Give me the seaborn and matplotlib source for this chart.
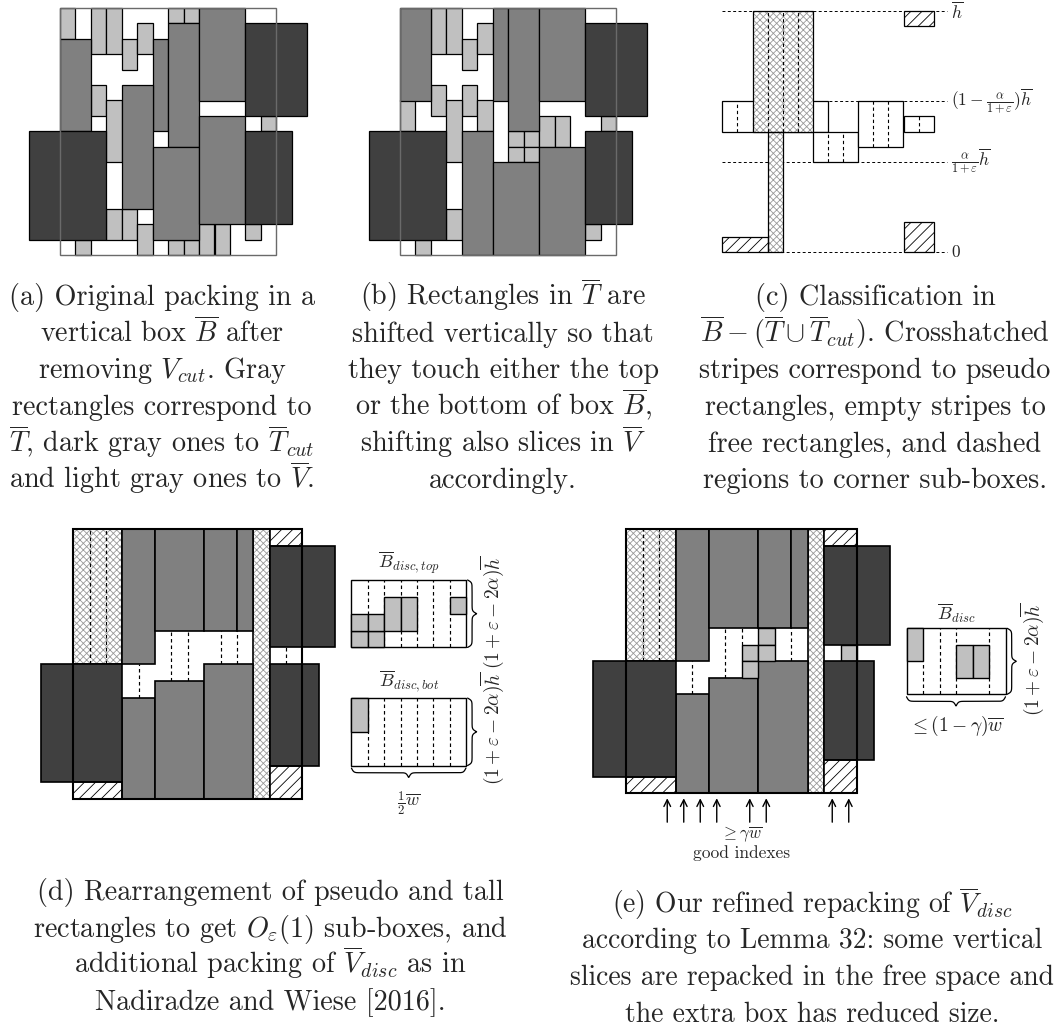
import numpy as np
import matplotlib
matplotlib.use('Agg')
import matplotlib.pyplot as plt
import seaborn as sns

sns.set_theme(style='white')
plt.rcParams['font.family'] = ['cmr10', 'DejaVu Serif']
plt.rcParams['mathtext.fontset'] = 'cm'
plt.rcParams['axes.unicode_minus'] = False
plt.rcParams['hatch.linewidth'] = 0.6

W, H = 1064, 1034
LIGHT, MED, DARK = sns.color_palette(['#c0c0c0', '#808080', '#404040'])
XHATCH = '#999999'

# rectangles are (x, y, width, height) in grid units, y measured from the box bottom
# (a) original packing
A_LIGHT = [(0, 14, 1, 2), (2, 13, 1, 3), (3, 13, 1, 3), (4, 12, 1, 2), (5, 13, 1, 2),
           (7, 15, 1, 1), (8, 15, 1, 1), (2, 9, 1, 2), (3, 6, 1, 4), (3, 1, 1, 2),
           (4, 1, 1, 2), (5, 0, 1, 2), (1, 0, 1, 1), (7, 0, 1, 1), (8, 0, 1, 1),
           (9, 0, 1, 2), (10, 0, 1, 2), (12, 1, 1, 1), (13, 8, 1, 1)]
A_MED = [(0, 8, 2, 6), (6, 8, 1, 6), (7, 7, 2, 8), (9, 10, 3, 6), (4, 3, 2, 8),
         (6, 1, 3, 6), (9, 2, 3, 7)]
CUT_DARK = [(-2, 1, 5, 7), (12, 9, 4, 6), (12, 2, 3, 6)]

# (b) shifted packing
B_LIGHT = [(2, 13, 1, 3), (3, 13, 1, 3), (4, 12, 1, 2), (5, 13, 1, 2), (2, 9, 1, 2),
           (4, 9, 1, 2), (0, 8, 1, 2), (3, 6, 1, 4), (5, 8, 1, 2), (7, 7, 1, 1),
           (8, 7, 1, 1), (7, 6, 1, 1), (8, 6, 1, 1), (9, 7, 1, 2), (10, 7, 1, 2),
           (3, 1, 1, 2), (1, 0, 1, 1), (13, 8, 1, 1), (12, 1, 1, 1)]
B_MED = [(0, 10, 2, 6), (6, 10, 1, 6), (7, 8, 2, 8), (9, 10, 3, 6), (4, 0, 2, 8),
         (6, 0, 3, 6), (9, 0, 3, 7)]

# (c) classification
C_FREE = [(0, 8, 7, 2), (6, 6, 3, 2), (9, 7, 3, 3), (12, 8, 2, 1)]
C_CROSS = [(2, 8, 4, 8), (3, 0, 1, 8)]
C_HATCH = [(12, 15, 2, 1), (0, 0, 3, 1), (12, 0, 2, 2)]
C_DASH = [(1, 8, 10), (2, 8, 10), (3, 8, 16), (4, 8, 16), (5, 8, 16), (7, 6, 8),
          (8, 6, 8), (10, 7, 10), (11, 7, 10), (13, 8, 9)]
C_LEVELS = [16, 10, 6, 0]
C_LEVEL_LABELS = [r'$\overline{h}$', r'$(1-\frac{\alpha}{1+\varepsilon})\overline{h}$',
                  r'$\frac{\alpha}{1+\varepsilon}\overline{h}$', r'$0$']

# (d) rearrangement
D_CROSS = [(0, 8, 3, 8), (11, 0, 1, 16)]
D_HATCH = [(12, 15, 2, 1), (12, 0, 2, 2), (0, 0, 3, 1)]
D_MED = [(3, 8, 2, 8), (3, 0, 2, 6), (5, 10, 3, 6), (8, 10, 2, 6), (10, 10, 1, 6),
         (5, 0, 3, 7), (8, 0, 3, 8)]
D_SIDE = [(17, 9, 7, 4), (17, 2, 7, 4)]
D_LIGHT = [(17, 9, 1, 1), (17, 10, 1, 1), (18, 9, 1, 1), (18, 10, 1, 1), (19, 10, 1, 2),
           (20, 10, 1, 2), (23, 11, 1, 1), (17, 4, 1, 2)]
D_DASH = [(1, 8, 16), (2, 8, 16), (4, 6, 8), (6, 7, 10), (7, 7, 10), (9, 8, 10),
          (10, 8, 10), (13, 8, 9)] + \
         [(x, 9, 13) for x in range(18, 24)] + [(x, 2, 6) for x in range(18, 24)]

# (e) refined repacking
E_LIGHT = [(8, 9, 1, 1), (7, 8, 1, 1), (8, 8, 1, 1), (7, 7, 1, 1), (13, 8, 1, 1),
           (17, 8, 1, 2), (20, 7, 1, 2), (21, 7, 1, 2)]
E_SIDE = [(17, 6, 6, 4)]
E_DASH = [(1, 8, 16), (2, 8, 16), (4, 6, 8), (6, 7, 10), (7, 9, 10), (10, 8, 10),
          (18, 6, 8), (19, 6, 10), (20, 6, 10), (22, 6, 10)]
E_GOOD = [2.5, 3.5, 4.5, 5.5, 7.5, 8.5, 12.5, 13.5]

fig = plt.figure(figsize=(W / 100, H / 100), dpi=100)


def panel(x0, y0, ux, uy, xlim, ylim):
    left = (x0 + xlim[0] * ux) / W
    bottom = 1 - (y0 - ylim[0] * uy) / H
    ax = fig.add_axes([left, bottom, (xlim[1] - xlim[0]) * ux / W,
                       (ylim[1] - ylim[0]) * uy / H])
    ax.set_xlim(xlim)
    ax.set_ylim(ylim)
    ax.axis('off')
    return ax


def rects(ax, data, color, lw=0.8, ec='black', z=2, hatch=None, hcolor='black'):
    x, y, w, h = np.array(data, dtype=float).T
    if hatch:
        ax.bar(x, h, w, y, align='edge', color='white', edgecolor=hcolor,
               hatch=hatch, linewidth=0, zorder=z)
        ax.bar(x, h, w, y, align='edge', fill=False, edgecolor=ec, linewidth=lw,
               zorder=z + 0.1)
    else:
        ax.bar(x, h, w, y, align='edge', color=color, edgecolor=ec, linewidth=lw,
               zorder=z)


def dashes(ax, data, lw=0.8, z=3):
    x, y0, y1 = np.array(data, dtype=float).T
    ax.vlines(x, y0, y1, colors='black', linestyles=(0, (3, 2.5)), linewidth=lw,
              zorder=z)


def brace(ax, a, b, pos, depth, vertical=True, lw=0.9):
    t = np.linspace(a, b, 400)
    half = np.linspace(0, (b - a) / 2, 200)
    s = 1 / (1 + np.exp(-14 * (half - half[0]))) + 1 / (1 + np.exp(-14 * (half - half[-1])))
    s = np.concatenate([s, s[::-1]]) - 0.5
    if vertical:
        ax.plot(pos + depth * s, t, color='black', lw=lw, zorder=5)
    else:
        ax.plot(t, pos - depth * s, color='black', lw=lw, zorder=5)


def box(ax, w, h, color, lw):
    ax.bar([0], [h], [w], [0], align='edge', fill=False, edgecolor=color,
           linewidth=lw, zorder=6)


# panels (a) and (b)
for x0, light, med in [(60, A_LIGHT, A_MED), (400, B_LIGHT, B_MED)]:
    ax = panel(x0, 255, 15.45, 15.45, (-2.5, 16.5), (-0.5, 16.5))
    rects(ax, light, LIGHT, lw=0.9)
    rects(ax, med, MED, lw=0.9)
    rects(ax, CUT_DARK, DARK, lw=0.9)
    box(ax, 14, 16, '#6a6a6a', 1.0)

# panel (c)
ax = panel(722.3, 252.3, 15.1, 15.1, (-0.5, 22), (-1, 17))
rects(ax, C_FREE, 'white', lw=0.9)
rects(ax, C_CROSS, 'white', lw=0.9, hatch='xxxxx', hcolor=XHATCH)
rects(ax, C_HATCH, 'white', lw=0.9, hatch='///', hcolor='black')
dashes(ax, C_DASH, lw=0.8)
ax.hlines(C_LEVELS, 0, 14.9, colors='black', linestyles=(0, (3, 2.5)), linewidth=0.7,
          zorder=1)
for lv, lab in zip(C_LEVELS, C_LEVEL_LABELS):
    ax.text(15.15, lv, lab, ha='left', va='center', fontsize=12.5)

# panels (d) and (e)
for name in ['d', 'e']:
    if name == 'd':
        ax = panel(73.3, 799.3, 16.36, 16.87, (-2.5, 26.5), (-1, 17))
        light, side, dsh = D_LIGHT, D_SIDE, D_DASH
    else:
        ax = panel(626, 793.3, 16.5, 16.5, (-2.5, 26.5), (-4.2, 17))
        light, side, dsh = E_LIGHT, E_SIDE, E_DASH
    rects(ax, side, 'white', lw=1.0, z=1)
    rects(ax, D_CROSS, 'white', lw=1.2, hatch='xxxxx', hcolor=XHATCH, z=1.2)
    dashes(ax, dsh, lw=0.85, z=1.5)
    rects(ax, D_HATCH, 'white', lw=1.2, hatch='///', hcolor='black')
    rects(ax, D_MED, MED, lw=1.2)
    rects(ax, light, LIGHT, lw=1.0)
    rects(ax, CUT_DARK, DARK, lw=1.2)
    box(ax, 14, 16, 'black', 1.5)
    if name == 'd':
        brace(ax, 9, 13, 24.1, 0.55)
        brace(ax, 2, 6, 24.1, 0.55)
        brace(ax, 17, 24, 1.85, 0.55, vertical=False)
        ax.text(20.5, 14.0, r'$\overline{B}_{disc,top}$', ha='center', va='center', fontsize=13)
        ax.text(20.5, 7.0, r'$\overline{B}_{disc,bot}$', ha='center', va='center', fontsize=13)
        ax.text(20.5, -0.25, r'$\frac{1}{2}\overline{w}$', ha='center', va='center', fontsize=13)
        ax.text(25.6, 11.1, r'$(1+\varepsilon-2\alpha)\overline{h}$', rotation=90,
                ha='center', va='center', fontsize=14)
        ax.text(25.6, 4.2, r'$(1+\varepsilon-2\alpha)\overline{h}$', rotation=90,
                ha='center', va='center', fontsize=14)
    else:
        brace(ax, 6, 10, 23.1, 0.55)
        brace(ax, 17, 23, 5.85, 0.55, vertical=False)
        ax.text(20.0, 10.9, r'$\overline{B}_{disc}$', ha='center', va='center', fontsize=13)
        ax.text(20.0, 4.1, r'$\leq(1-\gamma)\overline{w}$', ha='center', va='center', fontsize=14)
        ax.text(24.6, 8.1, r'$(1+\varepsilon-2\alpha)\overline{h}$', rotation=90,
                ha='center', va='center', fontsize=14)
        for gx in E_GOOD:
            ax.annotate('', xy=(gx, -0.3), xytext=(gx, -1.75),
                        arrowprops=dict(arrowstyle='->', lw=1.0, color='black',
                                        shrinkA=0, shrinkB=0))
        ax.text(7.0, -2.45, r'$\geq\gamma\overline{w}$', ha='center', va='center', fontsize=12)
        ax.text(7.0, -3.65, 'good indexes', ha='center', va='center', fontsize=12.5)

# captions: (centre x, first baseline y, font size, lines) in pixels
CAPTIONS = [
    (162, 305, 20.3, ['(a) Original packing in a',
                      r'vertical box $\overline{B}$ after',
                      r'removing $V_{cut}$. Gray',
                      'rectangles correspond to',
                      r'$\overline{T}$, dark gray ones to $\overline{T}_{cut}$',
                      r'and light gray ones to $\overline{V}$.']),
    (503, 305, 20.3, [r'(b) Rectangles in $\overline{T}$ are',
                      'shifted vertically so that',
                      'they touch either the top',
                      r'or the bottom of box $\overline{B}$,',
                      r'shifting also slices in $\overline{V}$',
                      'accordingly.']),
    (875, 305, 20.3, ['(c) Classification in',
                      r'$\overline{B}-(\overline{T}\cup\overline{T}_{cut})$. Crosshatched',
                      'stripes correspond to pseudo',
                      'rectangles, empty stripes to',
                      'free rectangles, and dashed',
                      'regions to corner sub-boxes.']),
    (270, 900, 20.3, ['(d) Rearrangement of pseudo and tall',
                      r'rectangles to get $O_{\varepsilon}(1)$ sub-boxes, and',
                      r'additional packing of $\overline{V}_{disc}$ as in',
                      'Nadiradze and Wiese [2016].']),
    (812, 911.7, 19.9, [r'(e) Our refined repacking of $\overline{V}_{disc}$',
                        'according to Lemma 32: some vertical',
                        'slices are repacked in the free space and',
                        'the extra box has reduced size.']),
]
for cx, y0, fs, lines in CAPTIONS:
    for i, s in enumerate(lines):
        fig.text(cx / W, 1 - (y0 + i * 36.7) / H, s, ha='center', va='baseline',
                 fontsize=fs)

fig.savefig('out.png', dpi=100)
